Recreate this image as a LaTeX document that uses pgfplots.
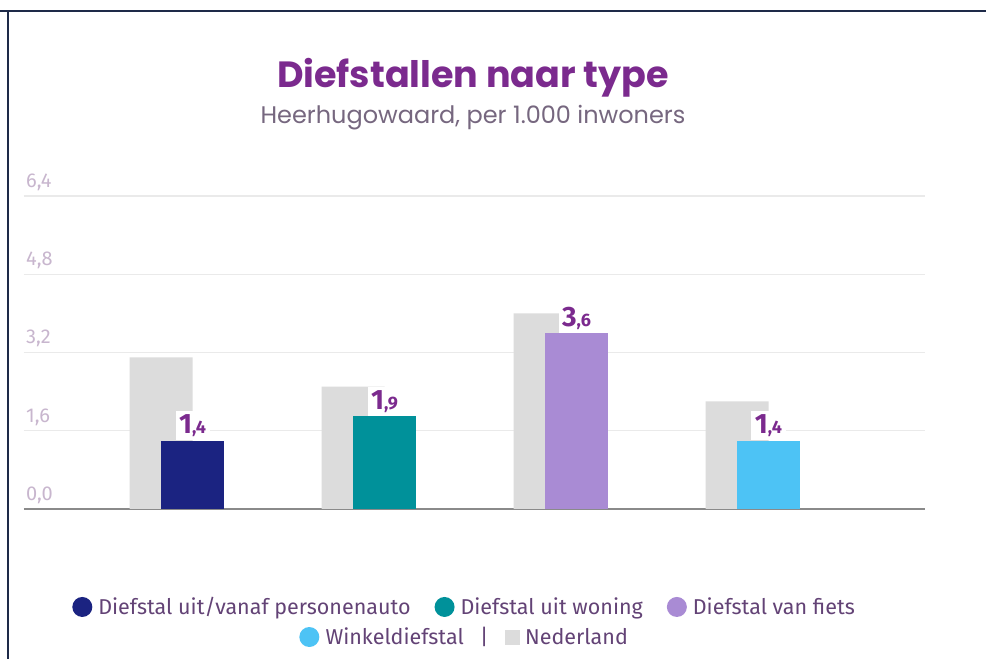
\documentclass[border=0pt]{standalone}
\usepackage{pgfplots}
\pgfplotsset{compat=1.18}
\usepackage{fontspec}
\setmainfont{Fira Sans}
\newfontfamily\titlefont{Poppins}
\definecolor{navy}{HTML}{1B2381}
\definecolor{teal2}{HTML}{00919A}
\definecolor{lav}{HTML}{A98BD4}
\definecolor{sky}{HTML}{4DC3F5}
\definecolor{ngrey}{HTML}{DCDCDC}
\definecolor{tpurple}{HTML}{7B2A8E}
\definecolor{subc}{HTML}{76677F}
\definecolor{legc}{HTML}{634376}
\definecolor{tickc}{HTML}{C8B6CE}
\definecolor{framec}{HTML}{1E2A48}
\definecolor{gridc}{HTML}{EAEAEA}
\definecolor{axc}{HTML}{8A8A8A}
\newcommand{\vlab}[2]{{\fontsize{28}{28}\selectfont\bfseries #1}{\fontsize{18}{18}\selectfont\bfseries ,#2}}
\pgfplotsset{
  circleleg/.style={legend image code/.code={\fill[##1, draw=none] (0pt,0pt) circle (10pt); \path (14pt,0pt);}},
  squareleg/.style={legend image code/.code={\fill[##1, draw=none] (-7.5pt,-7.5pt) rectangle (7.5pt,7.5pt); \path (11pt,0pt);}},
  valbar/.style={ybar, draw=none, bar width=0.328, bar shift=0,
    every node near coord/.append style={fill=white, text=tpurple, inner sep=3.5pt, anchor=south}},
}
\begin{document}
\begin{tikzpicture}[x=1pt,y=1pt]
\path[use as bounding box] (0,0) rectangle (986,659);
\fill[white] (0,0) rectangle (986,659);
\draw[framec, line width=2.5pt] (0,648) -- (986,648);
\draw[framec, line width=2.5pt] (8,0) -- (8,649);
\node[font=\titlefont\bfseries\fontsize{36.5}{36.5}\selectfont, text=tpurple] at (473,581) {Diefstallen naar type};
\node[font=\titlefont\fontsize{24}{24}\selectfont, text=subc] at (473,541) {Heerhugowaard, per 1.000 inwoners};
\begin{axis}[
  at={(24pt,150pt)}, anchor=south west, scale only axis,
  width=901pt, height=313pt,
  xmin=-0.878, xmax=3.815, ymin=0, ymax=6.4,
  ytick={0,1.6,3.2,4.8,6.4}, xtick=\empty,
  ymajorgrids, grid style={draw=gridc, line width=1.2pt},
  axis lines*=left,
  y axis line style={draw=none},
  x axis line style={draw=axc, line width=1.5pt},
  major tick length=0pt,
  /pgf/number format/.cd, fixed, fixed zerofill, precision=1, use comma, assume math mode=true,
  /pgfplots/.cd,
  yticklabel style={anchor=south west, font=\fontsize{20}{20}\selectfont, text=tickc, inner sep=0pt, xshift=2pt, yshift=5pt},
  legend style={at={(0.489,-0.313)}, anchor=center, draw=none, fill=none,
    font=\fontsize{21.5}{21.5}\selectfont, text=legc,
    /tikz/every even column/.append style={column sep=22pt}},
  legend columns=3, legend cell align=left,
]
\addplot[ybar, fill=ngrey, draw=none, bar width=0.328, bar shift=-0.164, forget plot]
  coordinates {(0,3.1) (1,2.5) (2,4.0) (3,2.2)};
\addplot[valbar, fill=navy, circleleg, nodes near coords={\vlab{1}{4}}] coordinates {(0,1.4)};
\addlegendentry{Diefstal uit/vanaf personenauto}
\addplot[valbar, fill=teal2, circleleg, nodes near coords={\vlab{1}{9}}] coordinates {(1,1.9)};
\addlegendentry{Diefstal uit woning}
\addplot[valbar, fill=lav, circleleg, nodes near coords={\vlab{3}{6}}] coordinates {(2,3.6)};
\addlegendentry{Diefstal van fiets}
\addplot[valbar, fill=sky, forget plot, nodes near coords={\vlab{1}{4}}] coordinates {(3,1.4)};
\end{axis}
\begin{axis}[
  at={(24pt,150pt)}, anchor=south west, scale only axis,
  width=901pt, height=313pt, hide axis,
  xmin=0, xmax=1, ymin=0, ymax=1,
  legend style={at={(0.489,-0.409)}, anchor=center, draw=none, fill=none,
    font=\fontsize{21.5}{21.5}\selectfont, text=legc,
    /tikz/every even column/.append style={column sep=14pt}},
  legend columns=2, legend cell align=left,
]
\addlegendimage{fill=sky, circleleg}
\addlegendentry{Winkeldiefstal\hspace{16pt}|}
\addlegendimage{fill=ngrey, squareleg}
\addlegendentry{Nederland}
\end{axis}
\end{tikzpicture}
\end{document}
